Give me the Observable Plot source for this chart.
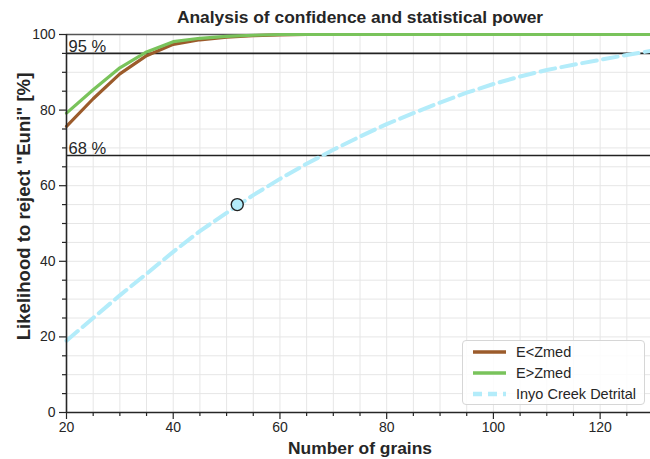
<!DOCTYPE html>
<html>
<head>
<meta charset="utf-8">
<script src="https://cdn.jsdelivr.net/npm/d3@7"></script>
<script src="https://cdn.jsdelivr.net/npm/@observablehq/plot@0.6"></script>
<style>
  html, body { margin: 0; padding: 0; background: #fff; overflow: hidden; }
  #wrap { position: relative; width: 650px; height: 459px; font-family: "Liberation Sans", Arial, sans-serif; }
  #legend { position: absolute; left: 462px; top: 340px; width: 183px; height: 65px;
    border: 1px solid #d6d6d6; border-radius: 4px; background: rgba(255,255,255,0.85);
    box-sizing: border-box; padding-top: 1px; }
  .row { height: 20.7px; display: flex; align-items: center; font-size: 14.5px; color: #262626; }
  .row svg { margin-left: 10px; margin-right: 10px; }
</style>
</head>
<body>
<div id="wrap"><div id="legend"></div></div>
<script>
// grain counts sampled
const grains = [20, 25, 30, 35, 40, 45, 50, 55, 60, 65, 70, 75, 80, 85, 90, 95, 100, 105, 110, 115, 120, 125, 130];
// E<Zmed
const eLess = [75.7, 83.0, 89.6, 94.4, 97.4, 98.6, 99.3, 99.7, 99.9, 100, 100, 100, 100, 100, 100, 100, 100, 100, 100, 100, 100, 100, 100];
// E>Zmed
const eMore = [79.2, 85.4, 91.2, 95.4, 98.1, 99.0, 99.5, 99.8, 100, 100, 100, 100, 100, 100, 100, 100, 100, 100, 100, 100, 100, 100, 100];
// Inyo Creek Detrital
const inyo = [19.0, 25.0, 31.0, 36.7, 42.5, 48.0, 52.8, 57.5, 61.8, 65.8, 69.5, 73.0, 76.3, 79.2, 82.0, 84.6, 86.9, 88.9, 90.6, 92.0, 93.3, 94.6, 95.8];
// observed sample
const obsGrains = [52];
const obsLikelihood = [55];
// reference levels
const levels = [95, 68];
const levelLabels = ["95 %", "68 %"];
const topLevel = [100];
// ticks
const xMajor = [20, 40, 60, 80, 100, 120];
const xMinor = [25, 30, 35, 45, 50, 55, 65, 70, 75, 85, 90, 95, 105, 110, 115, 125];
const xGrid = [25, 30, 35, 40, 45, 50, 55, 60, 65, 70, 75, 80, 85, 90, 95, 100, 105, 110, 115, 120, 125];
const yMajor = [0, 20, 40, 60, 80, 100];
const yMinor = [5, 10, 15, 25, 30, 35, 45, 50, 55, 65, 70, 75, 85, 90, 95];
const yGrid = [5, 10, 15, 20, 25, 30, 35, 40, 45, 50, 55, 60, 65, 70, 75, 80, 85, 90, 95];

const seriesNames = ["E<Zmed", "E>Zmed", "Inyo Creek Detrital"];
const colors = ["#9b5b2b", "#79c35b", "#b3ecfa"];

const curve = (vals, name) => grains.map((g, i) => ({grains: g, v: vals[i], name}));
const dLess = curve(eLess, seriesNames[0]);
const dMore = curve(eMore, seriesNames[1]);
const dInyo = curve(inyo, seriesNames[2]);
const obs = obsGrains.map((g, i) => ({grains: g, v: obsLikelihood[i]}));
const lev = levels.map((l, i) => ({v: l, label: levelLabels[i]}));

const ink = "#262626";
const plot = Plot.plot({
  width: 650,
  height: 459,
  marginLeft: 66,
  marginRight: -3,
  marginTop: 34,
  marginBottom: 47,
  style: {fontFamily: "Liberation Sans, Arial, sans-serif", color: ink, background: "transparent", overflow: "hidden"},
  x: {domain: [20, 130]},
  y: {domain: [0, 100]},
  marks: [
    Plot.gridX(xGrid, {stroke: "#e6e6e6", strokeOpacity: 1, strokeWidth: 1}),
    Plot.gridY(yGrid, {stroke: "#e6e6e6", strokeOpacity: 1, strokeWidth: 1}),
    Plot.ruleY(topLevel, {stroke: "#555", strokeWidth: 1.5}),
    Plot.ruleY(lev, {y: "v", stroke: "#222", strokeWidth: 1.6}),
    Plot.text(lev, {x: () => 20, y: "v", text: "label", textAnchor: "start", lineAnchor: "bottom", dx: 2, dy: -1, fontSize: 16.5, fill: ink}),
    Plot.line(dInyo, {x: "grains", y: "v", stroke: colors[2], strokeWidth: 4, strokeDasharray: "14.8,6.4"}),
    Plot.line(dLess, {x: "grains", y: "v", stroke: colors[0], strokeWidth: 3.2}),
    Plot.line(dMore, {x: "grains", y: "v", stroke: colors[1], strokeWidth: 3.2}),
    Plot.dot(obs, {x: "grains", y: "v", r: 6, fill: colors[2], stroke: "#222", strokeWidth: 1.4}),
    Plot.axisX(xMajor, {tickSize: 7, tickPadding: 3, fontSize: 14, label: null, stroke: ink, strokeWidth: 1.2}),
    Plot.axisX(xMinor, {tickSize: 4, tickFormat: () => "", label: null, stroke: ink, strokeWidth: 1.2}),
    Plot.axisY(yMajor, {tickSize: 7, tickPadding: 4, fontSize: 14, label: null, stroke: ink, strokeWidth: 1.2}),
    Plot.axisY(yMinor, {tickSize: 4, tickFormat: () => "", label: null, stroke: ink, strokeWidth: 1.2}),
    Plot.ruleX([20], {stroke: ink, strokeWidth: 1.6}),
    Plot.ruleY([0], {stroke: ink, strokeWidth: 1.6}),
    Plot.text(["Analysis of confidence and statistical power"], {frameAnchor: "top", textAnchor: "middle", lineAnchor: "bottom", dy: -12, fontSize: 17.4, fontWeight: "bold", fill: ink}),
    Plot.text(["Number of grains"], {frameAnchor: "bottom", textAnchor: "middle", lineAnchor: "bottom", dy: 41, fontSize: 17.4, fontWeight: "bold", fill: ink}),
    Plot.text(["Likelihood to reject \"Euni\" [%]"], {frameAnchor: "left", textAnchor: "middle", lineAnchor: "bottom", dx: -37, dy: -17, rotate: -90, fontSize: 18.6, fontWeight: "bold", fill: ink})
  ]
});
const wrap = document.getElementById("wrap");
wrap.insertBefore(plot, wrap.firstChild);

const legend = document.getElementById("legend");
seriesNames.forEach((name, i) => {
  const row = document.createElement("div");
  row.className = "row";
  const dash = i === 2 ? ' stroke-dasharray="9,6"' : "";
  const w = i === 2 ? 4.5 : 3.5;
  row.innerHTML = `<svg width="33" height="8"><line x1="0" x2="33" y1="4" y2="4" stroke="${colors[i]}" stroke-width="${w}"${dash}/></svg><span>${name.replace("<", "&lt;").replace(">", "&gt;")}</span>`;
  legend.appendChild(row);
});
</script>
</body>
</html>
